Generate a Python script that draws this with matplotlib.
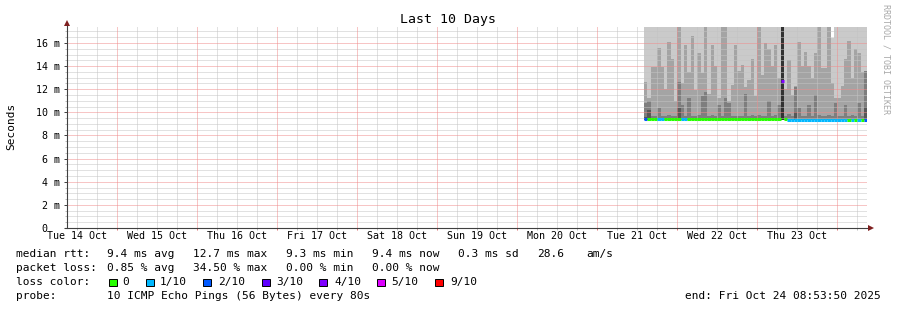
import matplotlib
matplotlib.use("Agg")
import matplotlib.pyplot as plt
import matplotlib.dates as mdates
from matplotlib.ticker import MultipleLocator
from matplotlib.patches import Rectangle
from matplotlib.lines import Line2D
from matplotlib.transforms import blended_transform_factory
from datetime import datetime, timedelta

plt.rcParams['font.family'] = ['DejaVu Sans Mono']

# ---------------- data ----------------
title = "Last 10 Days"
y_label = "Seconds"
watermark = "RRDTOOL / TOBI OETIKER"
t_start = datetime(2025, 10, 14, 8, 53, 50)
t_end = datetime(2025, 10, 24, 8, 53, 50)
day_labels = ["Tue 14 Oct", "Wed 15 Oct", "Thu 16 Oct", "Fri 17 Oct", "Sat 18 Oct",
              "Sun 19 Oct", "Mon 20 Oct", "Tue 21 Oct", "Wed 22 Oct", "Thu 23 Oct"]
ytick_vals = [0, 2, 4, 6, 8, 10, 12, 14, 16]
ytick_labels = ["0  ", "2 m", "4 m", "6 m", "8 m", "10 m", "12 m", "14 m", "16 m"]

first_sample = datetime(2025, 10, 21, 14, 0)   # hourly samples
smoke_base = 9.3
smoke_l1 = [17.4] * 56 + [16.4] + [17.4] * 10
smoke_l2 = [12.6, 11.2, 13.9, 13.9, 15.6, 13.9, 12.0, 16.1, 14.6, 11.0,
            17.4, 12.5, 15.8, 13.5, 16.6, 11.9, 15.1, 13.4, 17.4, 11.6,
            15.8, 14.0, 11.2, 17.4, 17.4, 11.0, 12.4, 15.8, 13.6, 14.1,
            12.2, 12.8, 14.6, 11.4, 17.4, 13.2, 16.0, 15.5, 14.0, 15.8,
            13.0, 17.4, 12.0, 14.5, 11.5, 12.3, 16.1, 14.0, 15.2, 14.0,
            13.0, 15.1, 17.4, 13.8, 13.8, 17.4, 12.5, 11.2, 11.2, 12.3,
            14.6, 16.2, 13.0, 15.5, 15.1, 13.5, 13.6]
smoke_l3 = [10.8, 11.0, 9.7, 9.7, 10.4, 9.7, 9.7, 9.8, 9.7, 9.7,
            12.6, 10.6, 9.7, 11.2, 9.7, 9.7, 9.8, 11.4, 11.8, 9.7,
            9.8, 9.7, 10.6, 9.7, 11.2, 10.8, 9.7, 9.7, 9.7, 9.7,
            11.6, 9.7, 9.8, 9.7, 9.8, 9.7, 9.7, 11.0, 9.7, 9.8,
            10.6, 17.4, 9.7, 9.9, 9.7, 12.2, 10.4, 9.7, 9.7, 10.6,
            9.7, 11.5, 9.8, 9.7, 9.7, 9.8, 9.7, 10.8, 9.7, 9.7,
            10.6, 9.7, 9.8, 9.7, 10.8, 9.7, 13.6]
smoke_l4 = [9.6, 10.2, 9.3, 9.3, 9.3, 9.3, 9.3, 9.3, 9.3, 9.3,
            10.4, 9.3, 9.3, 9.3, 9.3, 9.3, 9.3, 9.3, 9.3, 9.3,
            9.3, 9.3, 9.3, 9.3, 9.3, 9.3, 9.3, 9.3, 9.3, 9.3,
            9.3, 9.3, 9.3, 9.3, 9.3, 9.3, 9.3, 9.3, 9.3, 9.3,
            9.3, 17.4, 9.3, 9.3, 9.3, 10.0, 9.3, 9.3, 9.3, 9.3,
            9.3, 9.3, 9.3, 9.3, 9.3, 9.3, 9.3, 9.3, 9.3, 9.3,
            9.3, 9.3, 9.3, 9.3, 9.3, 9.3, 10.5]
smoke_l5 = [9.3] * 41 + [17.4] + [9.3] * 25
median_rtt = [9.45] * 41 + [12.7] + [9.4] + [9.35] * 24
loss = [2, 0, 0, 0, 1, 1, 0, 0, 0, 0,
        0, 1, 1, 0, 0, 0, 0, 0, 0, 0,
        0, 0, 0, 0, 0, 0, 0, 0, 0, 0,
        0, 0, 0, 0, 0, 0, 0, 0, 0, 0,
        0, 4, 0, 1, 1, 1, 1, 1, 1, 1,
        1, 1, 1, 1, 1, 1, 1, 1, 1, 1,
        1, 0, 1, 0, 1, 0, 2]

loss_colors = {0: "#26ff00", 1: "#00b8ff", 2: "#0059ff", 3: "#5e00ff",
               4: "#7e00ff", 5: "#dd00ff", 9: "#ff0000"}
loss_legend = ["0", "1/10", "2/10", "3/10", "4/10", "5/10", "9/10"]
loss_legend_keys = [0, 1, 2, 3, 4, 5, 9]

rtt_row = ["median rtt:", "9.4 ms avg", "12.7 ms max", "9.3 ms min", "9.4 ms now",
           "0.3 ms sd", "28.6", "am/s"]
loss_row = ["packet loss:", "0.85 % avg", "34.50 % max", "0.00 % min", "0.00 % now"]
probe_text = "10 ICMP Echo Pings (56 Bytes) every 80s"
end_text = "end: Fri Oct 24 08:53:50 2025"

# ---------------- figure ----------------
W, H = 897, 310
fig = plt.figure(figsize=(W / 100, H / 100), dpi=100, facecolor="white")
ax = fig.add_axes([67 / W, (H - 228) / H, 800 / W, 201 / H])
ax.set_facecolor("white")

n = len(smoke_l2)
times = [first_sample + timedelta(hours=i) for i in range(n)]
edges = mdates.date2num(times + [times[-1] + timedelta(hours=1)])

def step_fill(vals, color, z):
    ys = list(vals) + [vals[-1]]
    ax.fill_between(edges, smoke_base, ys, step="post", color=color, lw=0, zorder=z)

step_fill(smoke_l1, "#cacaca", 1.0)
step_fill(smoke_l2, "#a4a4a4", 1.1)
step_fill(smoke_l3, "#7e7e7e", 1.2)
step_fill(smoke_l4, "#585858", 1.3)
step_fill(smoke_l5, "#323232", 1.4)

ax.hlines(median_rtt, edges[:-1], edges[1:], colors=[loss_colors[l] for l in loss],
          lw=2.2, zorder=3, capstyle="butt")

ax.set_xlim(t_start, t_end)
ax.set_ylim(0, 17.38)

ax.set_yticks(ytick_vals, ytick_labels)
ax.yaxis.set_minor_locator(MultipleLocator(0.5))
ax.xaxis.set_major_locator(mdates.DayLocator())
ax.xaxis.set_minor_locator(mdates.HourLocator(byhour=[6, 12, 18]))
ax.xaxis.set_major_formatter(plt.NullFormatter())

# grid drawn manually: minor (gray dotted) first, then major (red dotted) on top
fig.canvas.draw()
grid_kw = dict(lw=0.72, ls=(0, (1, 1)), snap=True, zorder=2.5)
x_major = list(ax.xaxis.get_majorticklocs())
x_minor = [v for v in ax.xaxis.get_minorticklocs()
           if all(abs(v - m) > 1e-6 for m in x_major)]
y_major = list(ytick_vals)
y_minor = [v for v in ax.yaxis.get_minorticklocs()
           if all(abs(v - m) > 1e-6 for m in y_major)]
for v in y_minor:
    ax.axhline(v, color="#c4c4c4", **grid_kw)
for v in x_minor:
    ax.axvline(v, color="#c4c4c4", **grid_kw)
for v in y_major[1:]:
    ax.axhline(v, color="#f08c8c", **grid_kw)
for v in x_major:
    ax.axvline(v, color="#f08c8c", **grid_kw)

ax.tick_params(axis="y", which="major", length=2.2, width=0.7, color="#404040",
               pad=2.8, labelsize=7.2)
ax.tick_params(axis="y", which="minor", length=1.4, width=0.7, color="#bbbbbb")
ax.tick_params(axis="x", which="major", length=1.6, width=0.7, color="#e07070")
ax.tick_params(axis="x", which="minor", length=1.6, width=0.7, color="#bbbbbb")

for s in ax.spines.values():
    s.set_visible(False)

# axis lines with arrows
ax.add_line(Line2D([0, 0], [0, 1.02], transform=ax.transAxes, color="#404040",
                   lw=0.8, clip_on=False, zorder=5))
ax.add_line(Line2D([-0.003, 1.005], [0, 0], transform=ax.transAxes, color="#404040",
                   lw=0.8, clip_on=False, zorder=5))
ax.plot([0], [(228 - 23) / 201], marker="^", ms=4.2, mew=0, color="#7f1f1f",
        transform=ax.transAxes, clip_on=False, zorder=6)
ax.plot([(871 - 67) / 800], [0], marker=">", ms=4.2, mew=0, color="#7f1f1f",
        transform=ax.transAxes, clip_on=False, zorder=6)

# day labels at noon
trans = blended_transform_factory(ax.transData, ax.transAxes)
for i, lab in enumerate(day_labels):
    noon = datetime(2025, 10, 14 + i, 12, 0)
    ax.annotate(lab, xy=(mdates.date2num(noon), 0), xycoords=trans,
                xytext=(0, -2.5), textcoords="offset points",
                ha="center", va="top", fontsize=7.2)

def fx(px):
    return px / W

def fy(py):
    return 1 - py / H

fig.text(fx(448), fy(19), title, ha="center", va="center", fontsize=9.5)
fig.text(fx(11), fy(126), y_label, ha="center", va="center", rotation=90, fontsize=8)
fig.text(fx(886), fy(4), watermark, ha="center", va="top", rotation=270,
         fontsize=6, color="#a8a8a8")

# legend rows
rtt_x = [16, 107, 193, 286, 372, 458, 537, 586]
loss_x = [16, 107, 193, 286, 372]
for s, x in zip(rtt_row, rtt_x):
    fig.text(fx(x), fy(254), s, ha="left", va="center", fontsize=8)
for s, x in zip(loss_row, loss_x):
    fig.text(fx(x), fy(268), s, ha="left", va="center", fontsize=8)
fig.text(fx(16), fy(282), "loss color:", ha="left", va="center", fontsize=8)
box_x = [109, 146, 203, 262, 319, 377, 435]
lab_x = [122.5, 160, 218, 276, 334, 391.5, 450]
for k, lab, bx, lx in zip(loss_legend_keys, loss_legend, box_x, lab_x):
    fig.add_artist(Rectangle((fx(bx), fy(286)), 7.5 / W, 7.5 / H, transform=fig.transFigure,
                             facecolor=loss_colors[k], edgecolor="black", lw=0.7))
    fig.text(fx(lx), fy(282), lab, ha="left", va="center", fontsize=8)
fig.text(fx(16), fy(296), "probe:", ha="left", va="center", fontsize=8)
fig.text(fx(107), fy(296), probe_text, ha="left", va="center", fontsize=8)
fig.text(fx(881), fy(296), end_text, ha="right", va="center", fontsize=8)

fig.savefig("out.png", dpi=100, facecolor="white")
